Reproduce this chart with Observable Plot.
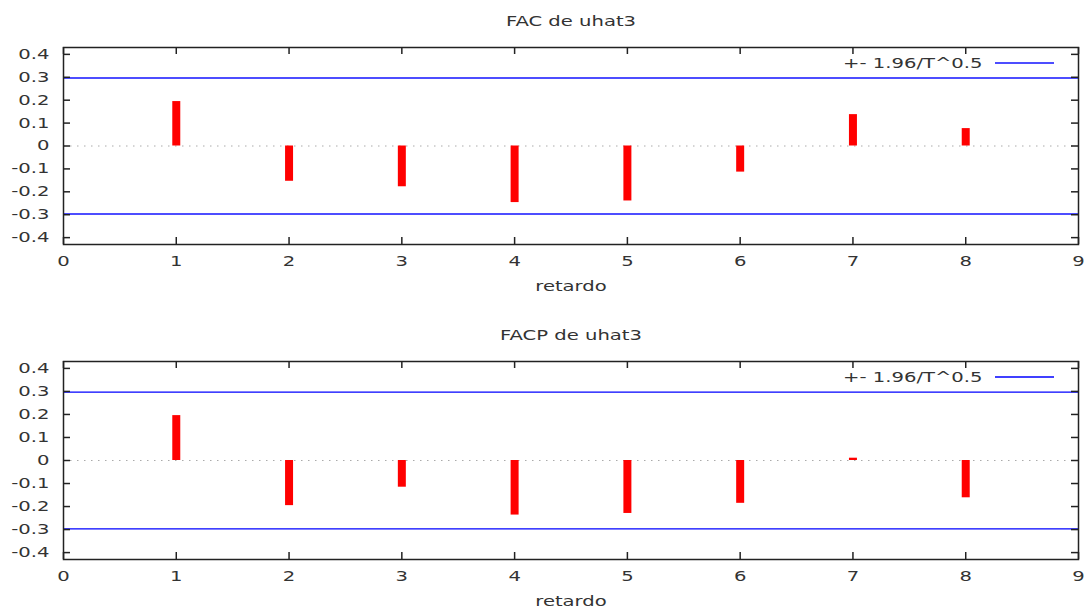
<!DOCTYPE html>
<html>
<head>
<meta charset="utf-8">
<script src="https://cdn.jsdelivr.net/npm/d3@7"></script>
<script src="https://cdn.jsdelivr.net/npm/@observablehq/plot@0.6"></script>
<style>
  html, body { margin: 0; padding: 0; background: #fff; }
  #chart svg { display: block; }
</style>
</head>
<body>
<div id="chart"></div>
<script>
// ---- data ----
const lags = [1, 2, 3, 4, 5, 6, 7, 8];
const acfValues = [0.194, -0.154, -0.178, -0.247, -0.240, -0.114, 0.137, 0.076];
const pacfValues = [0.195, -0.196, -0.116, -0.237, -0.230, -0.186, 0.010, -0.162];
const bound = 0.297;
const xTicks = [0, 1, 2, 3, 4, 5, 6, 7, 8, 9];
const yTicks = [-0.4, -0.3, -0.2, -0.1, 0, 0.1, 0.2, 0.3, 0.4];
const titles = ["FAC de uhat3", "FACP de uhat3"];
const xLabel = "retardo";
const legendLabel = "+- 1.96/T^0.5";

const W = 1088, ML = 63, MR = 10;
const STRETCH = 1.4;
const fmt = d => d === 0 ? "0" : d.toFixed(1);

// widen glyphs horizontally around each text's own anchor point
function stretchText(svg) {
  d3.select(svg).selectAll("text").each(function () {
    const t = this.getAttribute("transform") || "";
    this.setAttribute("transform", (t + ` scale(${STRETCH},1)`).trim());
  });
  return svg;
}

function panel(title, values, height, marginTop, marginBottom, blue, blueWidth) {
  const data = lags.map((lag, i) => ({lag, v: values[i]}));
  const fh = height - marginTop - marginBottom;
  const fw = W - ML - MR;
  const legendLine = (index, scales, vals, dims) => {
    const x2 = dims.width - dims.marginRight - 24;
    const y = dims.marginTop + 16;
    return d3.create("svg:line")
      .attr("x1", x2 - 59).attr("x2", x2)
      .attr("y1", y).attr("y2", y)
      .attr("stroke", blue).attr("stroke-width", blueWidth)
      .node();
  };
  const svg = Plot.plot({
    width: W, height, marginLeft: ML, marginRight: MR, marginTop, marginBottom,
    style: {fontFamily: "'DejaVu Sans', sans-serif", fontSize: "14px", color: "#333", background: "#fff"},
    x: {domain: [0, 9]},
    y: {domain: [-0.43, 0.43]},
    marks: [
      Plot.ruleY([0], {stroke: "#aaa", strokeDasharray: "1.5,5.5"}),
      Plot.ruleY([bound, -bound], {stroke: blue, strokeWidth: blueWidth}),
      Plot.ruleX(data, {x: "lag", y1: 0, y2: "v", stroke: "red", strokeWidth: 8}),
      Plot.frame({stroke: "#222", strokeWidth: 1.5}),
      Plot.tickX(xTicks, {x: d => d, insetTop: fh - 7, stroke: "#222", strokeWidth: 1.5}),
      Plot.tickX(xTicks, {x: d => d, insetBottom: fh - 7, stroke: "#222", strokeWidth: 1.5}),
      Plot.tickY(yTicks, {y: d => d, insetRight: fw - 7, stroke: "#222", strokeWidth: 1.5}),
      Plot.tickY(yTicks, {y: d => d, insetLeft: fw - 7, stroke: "#222", strokeWidth: 1.5}),
      Plot.axisX({ticks: xTicks, tickSize: 0, tickPadding: 12, tickFormat: d => String(d), label: null, fontSize: 14}),
      Plot.axisY({ticks: yTicks, tickSize: 0, tickPadding: 14, tickFormat: fmt, label: null, fontSize: 14}),
      Plot.text([xLabel], {frameAnchor: "bottom", dy: 42, lineAnchor: "middle", fill: "#333", fontSize: 14}),
      Plot.text([title], {frameAnchor: "top", dy: -26, lineAnchor: "middle", fill: "#333", fontSize: 14}),
      Plot.text([legendLabel], {frameAnchor: "top-right", dx: -96, dy: 16, textAnchor: "end", lineAnchor: "middle", fill: "#333", fontSize: 14}),
      legendLine
    ]
  });
  return stretchText(svg);
}

const root = document.getElementById("chart");
root.appendChild(panel(titles[0], acfValues, 300, 47, 56, "#4d4dff", 2));
root.appendChild(panel(titles[1], pacfValues, 308, 61, 49, "#0000ff", 1.3));
</script>
</body>
</html>
